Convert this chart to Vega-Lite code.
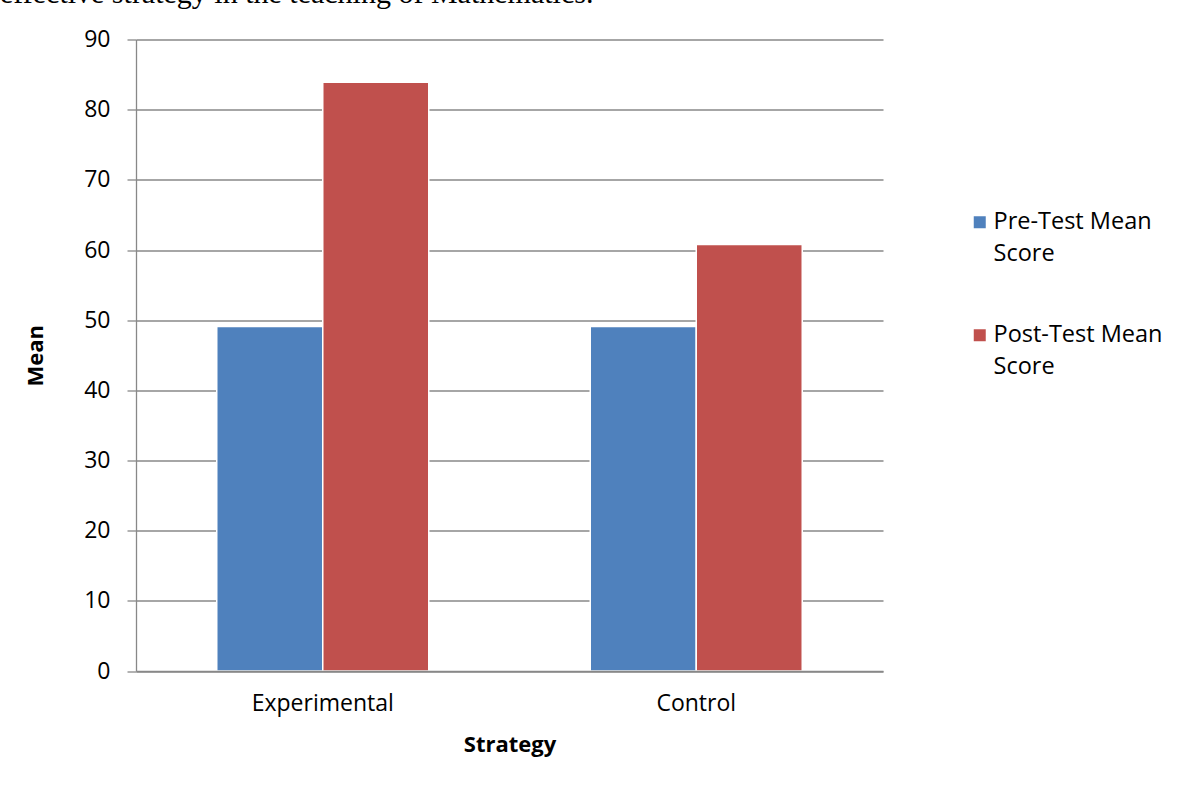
{
  "$schema": "https://vega.github.io/schema/vega-lite/v6.json",
  "width": 747,
  "height": 631.5,
  "autosize": "none",
  "padding": {"left": 136, "top": 39.5, "right": 315, "bottom": 116},
  "background": "white",
  "title": {
    "text": "effective strategy in the teaching of Mathematics.",
    "anchor": "start",
    "frame": "group",
    "font": "Liberation Serif",
    "fontSize": 30,
    "fontWeight": "normal",
    "color": "black",
    "baseline": "alphabetic",
    "offset": 20,
    "dy": 24,
    "dx": -136
  },
  "data": {
    "values": [
      {"Strategy": "Experimental", "Test": "Pre-Test Mean Score", "Mean": 49.1},
      {"Strategy": "Experimental", "Test": "Post-Test Mean Score", "Mean": 83.9},
      {"Strategy": "Control", "Test": "Pre-Test Mean Score", "Mean": 49.1},
      {"Strategy": "Control", "Test": "Post-Test Mean Score", "Mean": 60.8}
    ]
  },
  "mark": {"type": "bar", "stroke": "white", "strokeWidth": 1.5},
  "encoding": {
    "x": {
      "field": "Strategy",
      "type": "nominal",
      "sort": ["Experimental", "Control"],
      "scale": {"paddingInner": 0.4324, "paddingOuter": 0.2162},
      "axis": {
        "title": "Strategy",
        "labelAngle": 0,
        "ticks": false,
        "labelPadding": 21,
        "titlePadding": 19,
        "zindex": 1
      }
    },
    "xOffset": {
      "field": "Test",
      "type": "nominal",
      "sort": ["Pre-Test Mean Score", "Post-Test Mean Score"],
      "scale": {"paddingInner": 0}
    },
    "y": {
      "field": "Mean",
      "type": "quantitative",
      "scale": {"domain": [0, 90], "nice": false},
      "axis": {
        "title": "Mean",
        "values": [0, 10, 20, 30, 40, 50, 60, 70, 80, 90],
        "tickSize": 9,
        "labelPadding": 17,
        "titlePadding": 36
      }
    },
    "color": {
      "field": "Test",
      "type": "nominal",
      "sort": ["Pre-Test Mean Score", "Post-Test Mean Score"],
      "scale": {
        "domain": ["Pre-Test Mean Score", "Post-Test Mean Score"],
        "range": ["#4F81BD", "#C0504D"]
      },
      "legend": {
        "title": null,
        "orient": "none",
        "legendX": 832,
        "legendY": 171,
        "symbolType": "square",
        "symbolSize": 144,
        "symbolStrokeWidth": 0,
        "labelFont": "Open Sans",
        "labelFontSize": 23.5,
        "labelColor": "black",
        "labelOffset": 2,
        "labelLimit": 0,
        "rowPadding": 56,
        "labelExpr": "datum.label == 'Pre-Test Mean Score' ? ['Pre-Test Mean', 'Score'] : ['Post-Test Mean', 'Score']"
      }
    }
  },
  "config": {
    "font": "Open Sans",
    "view": {"stroke": null},
    "style": {"guide-label": {"lineHeight": 32}},
    "axis": {
      "labelFont": "Open Sans",
      "labelFontSize": 23,
      "labelColor": "black",
      "titleFont": "Open Sans",
      "titleFontSize": 22,
      "titleFontWeight": "bold",
      "titleColor": "black",
      "domainColor": "#888888",
      "domainWidth": 1.3,
      "gridColor": "#888888",
      "gridWidth": 1.3,
      "tickColor": "#888888",
      "tickWidth": 1.3
    }
  }
}
